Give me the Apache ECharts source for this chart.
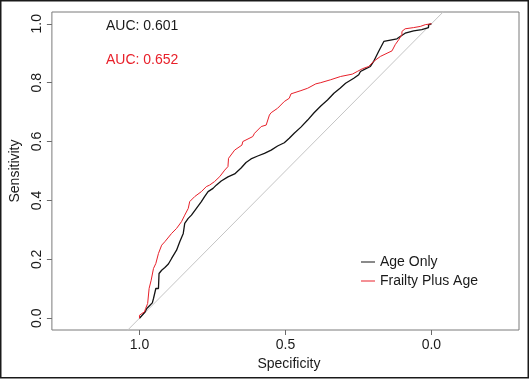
<!DOCTYPE html>
<html><head><meta charset="utf-8">
<script src="https://cdn.jsdelivr.net/npm/echarts@6/dist/echarts.min.js"></script>
<style>html,body{margin:0;padding:0;background:#fff}#c{width:530px;height:379px}</style>
</head><body><div id="c"></div>
<script>
// ---- data ----
const xTicks = [0, 0.5, 1];
const yTicks = [0, 0.2, 0.4, 0.6, 0.8, 1];
const seriesNames = ['Age Only', 'Frailty Plus Age'];
const aucLabels = ['AUC: 0.601', 'AUC: 0.652'];

const ageSpec = [1.000,0.981,0.975,0.964,0.956,0.952,0.947,0.944,0.935,0.933,0.924,0.913,0.901,0.890,0.873,0.862,0.850,0.845,0.833,0.822,0.805,0.788,0.777,0.765,0.748,0.737,0.720,0.697,0.674,0.652,0.635,0.618,0.595,0.572,0.549,0.527,0.504,0.487,0.470,0.447,0.424,0.402,0.379,0.356,0.334,0.313,0.294,0.266,0.249,0.243,0.226,0.209,0.198,0.181,0.163,0.158,0.118,0.107,0.101,0.090,0.084,0.061,0.033,0.027,0.010,0.010,0.000];
const ageSens = [0.000,0.021,0.033,0.044,0.052,0.067,0.067,0.101,0.101,0.152,0.163,0.172,0.184,0.203,0.231,0.260,0.288,0.322,0.339,0.350,0.373,0.396,0.413,0.430,0.441,0.452,0.466,0.480,0.490,0.510,0.529,0.541,0.551,0.560,0.571,0.585,0.596,0.611,0.628,0.649,0.673,0.698,0.721,0.741,0.764,0.781,0.798,0.815,0.827,0.838,0.847,0.855,0.872,0.906,0.940,0.946,0.949,0.957,0.963,0.968,0.974,0.976,0.980,0.985,0.987,0.997,1.000];

const frailSpec = [1.000,1.000,0.992,0.983,0.979,0.972,0.967,0.960,0.952,0.944,0.935,0.924,0.913,0.907,0.890,0.873,0.856,0.845,0.833,0.828,0.811,0.788,0.771,0.760,0.743,0.725,0.708,0.697,0.695,0.674,0.669,0.649,0.646,0.612,0.606,0.583,0.566,0.555,0.549,0.527,0.504,0.487,0.481,0.447,0.424,0.396,0.379,0.345,0.311,0.271,0.254,0.237,0.215,0.198,0.175,0.152,0.135,0.124,0.112,0.101,0.101,0.090,0.061,0.038,0.021,0.016,0.000];
const frailSens = [0.000,0.010,0.016,0.021,0.033,0.050,0.101,0.129,0.169,0.186,0.220,0.248,0.260,0.265,0.288,0.305,0.328,0.350,0.373,0.396,0.413,0.430,0.447,0.452,0.464,0.481,0.503,0.515,0.543,0.571,0.577,0.588,0.600,0.617,0.628,0.651,0.656,0.690,0.698,0.713,0.736,0.747,0.762,0.773,0.781,0.796,0.800,0.810,0.821,0.829,0.838,0.847,0.855,0.872,0.889,0.900,0.908,0.929,0.946,0.963,0.974,0.983,0.987,0.991,0.997,1.000,1.000];

const diagSpec = [1.2, -0.2];
const diagSens = [-0.2, 1.2];

// ---- chart ----
const zip = (a, b) => a.map((v, i) => [v, b[i]]);
const FONT = '"Liberation Sans", Arial, Helvetica, sans-serif';
const RED = '#e8202a';
const BLACK = '#141414';
const chart = echarts.init(document.getElementById('c'), null, {renderer: 'canvas'});
chart.setOption({
  animation: false,
  backgroundColor: '#fff',
  textStyle: {fontFamily: FONT},
  grid: {left: 50, top: 12, right: 11, bottom: 49, show: true, borderColor: '#7a7a7a', borderWidth: 1},
  legend: {
    data: seriesNames, orient: 'vertical', left: 361, top: 255, itemGap: 5, padding: 0,
    itemWidth: 14, itemHeight: 1, icon: 'rect',
    textStyle: {fontFamily: FONT, fontSize: 14, color: '#1a1a1a'}
  },
  xAxis: {
    type: 'value', inverse: true, min: -0.3, max: 1.3,
    name: 'Specificity', nameLocation: 'middle', nameGap: 21,
    nameTextStyle: {fontFamily: FONT, fontSize: 14, color: '#1a1a1a', padding: [0, 0, 0, 7]},
    axisLine: {show: false, onZero: false},
    axisTick: {show: true, customValues: xTicks, length: 5, lineStyle: {color: '#6a6a6a'}},
    axisLabel: {customValues: xTicks, margin: 8, fontFamily: FONT, fontSize: 14, color: '#1a1a1a', formatter: v => v.toFixed(1)},
    splitLine: {show: false}
  },
  yAxis: {
    type: 'value', min: -0.04, max: 1.04,
    name: 'Sensitivity', nameLocation: 'middle', nameGap: 23,
    nameTextStyle: {fontFamily: FONT, fontSize: 14, color: '#1a1a1a'},
    axisLine: {show: false, onZero: false},
    axisTick: {show: true, customValues: yTicks, length: 5, lineStyle: {color: '#6a6a6a'}},
    axisLabel: {customValues: yTicks, margin: 8, rotate: 90, fontFamily: FONT, fontSize: 14, color: '#1a1a1a', formatter: v => v.toFixed(1)},
    splitLine: {show: false}
  },
  series: [
    {type: 'line', name: 'diagonal', data: zip(diagSpec, diagSens), showSymbol: false, silent: true,
      lineStyle: {color: '#c4c4c4', width: 1}, z: 1},
    {type: 'line', name: seriesNames[0], data: zip(ageSpec, ageSens), showSymbol: false,
      lineStyle: {color: BLACK, width: 1.3}, itemStyle: {color: BLACK}, z: 2},
    {type: 'line', name: seriesNames[1], data: zip(frailSpec, frailSens), showSymbol: false,
      lineStyle: {color: RED, width: 1}, itemStyle: {color: RED}, z: 3}
  ],
  graphic: [
    {type: 'rect', silent: true, shape: {x: 0.75, y: 0.75, width: 527.5, height: 377},
      style: {fill: 'none', stroke: '#1a1a1a', lineWidth: 1.5}},
    {type: 'text', x: 106, y: 26, style: {text: aucLabels[0], fill: '#1a1a1a', font: '14px ' + FONT, textVerticalAlign: 'middle'}},
    {type: 'text', x: 106, y: 60, style: {text: aucLabels[1], fill: RED, font: '14px ' + FONT, textVerticalAlign: 'middle'}}
  ]
});
</script>
</body></html>
